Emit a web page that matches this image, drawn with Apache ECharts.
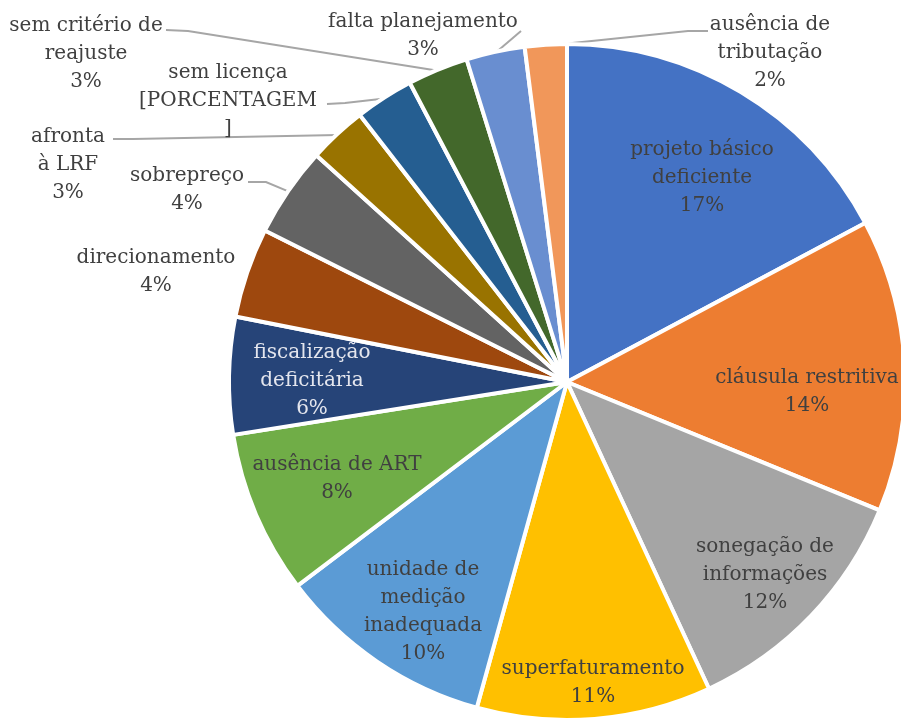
<!DOCTYPE html>
<html>
<head>
<meta charset="utf-8">
<script src="https://cdn.jsdelivr.net/npm/echarts/dist/echarts.min.js"></script>
<style>html,body{margin:0;padding:0;background:#fff}#c{width:901px;height:722px}</style>
</head>
<body>
<div id="c"></div>
<script>
// ---- data ----
const categories = [
  'projeto básico\ndeficiente', 'cláusula restritiva', 'sonegação de\ninformações',
  'superfaturamento', 'unidade de\nmedição\ninadequada', 'ausência de ART',
  'fiscalização\ndeficitária', 'direcionamento', 'sobrepreço', 'afronta\nà LRF',
  'sem licença', 'sem critério de\nreajuste', 'falta planejamento', 'ausência de\ntributação'
];
const values = [17.2, 14.0, 11.9, 11.2, 10.4, 7.8, 5.6, 4.3, 4.3, 2.8, 2.8, 2.9, 2.8, 2.0];
// label text shown instead of the percentage (the source shows a placeholder for one slice)
const pctOverride = [null, null, null, null, null, null, null, null, null, null, '[PORCENTAGEM\n]', null, null, null];

// ---- styles / layout ----
const colors = ['#4472C4', '#ED7D31', '#A5A5A5', '#FFC000', '#5B9BD5', '#70AD47', '#264478',
  '#9E480E', '#636363', '#997300', '#255E91', '#43682B', '#698ED0', '#F1975A'];
const outside = [false, false, false, false, false, false, false, true, true, true, true, true, true, true];
const labelColor = ['#404040', '#404040', '#404040', '#404040', '#404040', '#404040', '#e4e6ee',
  '#404040', '#404040', '#404040', '#404040', '#404040', '#404040', '#404040'];
const labelPos = [[702, 178], [807, 392], [765, 575], [593, 683], [423, 612], [337, 479], [312, 381],
  [156, 272], [187, 190], [68, 165], [228, 101], [86, 54], [423, 36], [770, 53]];
const guides = [null, null, null, null, null, null, null, null,
  [[248, 182], [266, 182]], [[113, 139], [133, 139]], [[327, 104], [345, 103]],
  [[166, 30], [188, 31]], [[521, 31], [521, 31]], [[708, 31], [688, 31]]];
const CX = 567, CY = 382, R = 338;

const total = values.reduce((a, b) => a + b, 0);
function midAngle(i) {
  let s = 0;
  for (let k = 0; k < i; k++) s += values[k];
  return (s + values[i] / 2) / total * Math.PI * 2;
}

const data = categories.map((name, i) => ({
  name: name,
  value: values[i],
  itemStyle: { color: colors[i] },
  label: { position: outside[i] ? 'outside' : 'inside', color: labelColor[i] },
  labelLine: { show: !!guides[i] }
}));

const chart = echarts.init(document.getElementById('c'), null, { renderer: 'canvas' });
chart.setOption({
  backgroundColor: '#ffffff',
  animation: false,
  series: [{
    type: 'pie',
    center: [CX, CY],
    radius: R,
    startAngle: 90,
    clockwise: true,
    avoidLabelOverlap: false,
    itemStyle: { borderColor: '#ffffff', borderWidth: 4 },
    label: {
      show: true,
      fontFamily: 'DejaVu Serif',
      fontSize: 20,
      lineHeight: 28,
      align: 'center',
      overflow: 'none',
      formatter: function (p) {
        const o = pctOverride[p.dataIndex];
        return p.name + '\n' + (o !== null ? o : Math.round(p.percent) + '%');
      }
    },
    labelLine: { lineStyle: { color: '#a6a6a6', width: 2 }, length: 10, length2: 10 },
    labelLayout: function (p) {
      const i = p.dataIndex;
      const out = { x: labelPos[i][0], y: labelPos[i][1], align: 'center', verticalAlign: 'middle' };
      const g = guides[i];
      if (g) {
        const a = midAngle(i);
        const edge = [CX + (R - 1) * Math.sin(a), CY - (R - 1) * Math.cos(a)];
        out.labelLinePoints = [edge, g[1], g[0]];
      }
      return out;
    },
    emphasis: { disabled: true },
    data: data
  }]
});
</script>
</body>
</html>
